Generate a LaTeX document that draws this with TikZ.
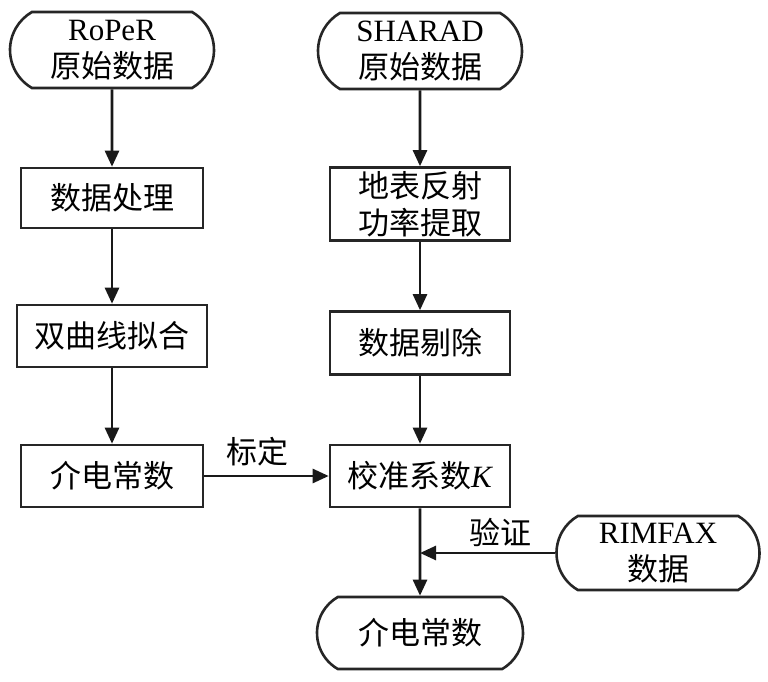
\documentclass[tikz,border=0pt]{standalone}
\usepackage{fontspec}
\setmainfont{Liberation Serif}
\newfontfamily\cjk{Noto Sans CJK SC}
\usetikzlibrary{shapes.misc,arrows.meta}
\begin{document}
\begin{tikzpicture}[x=1pt,y=-1pt,
  every node/.style={font=\fontsize{31}{37}\selectfont, align=center},
  term/.style={draw=black!85, line width=2.6pt, rounded rectangle, rounded rectangle arc length=120, minimum width=204pt, minimum height=76pt, inner sep=0pt},
  proc/.style={draw=black!85, line width=2.6pt, rectangle, minimum width=182pt, minimum height=60pt, inner sep=0pt},
  arr/.style={line width=2.6pt, draw=black!90, -{Triangle[width=14pt,length=16pt]}},
  lbl/.style={inner sep=0pt}]
\useasboundingbox (0,0) rectangle (768,682);
% left column
\node[term] (roper) at (112,50) {RoPeR\\{\cjk 原始数据}};
\node[proc] (dp) at (112,198) {\cjk 数据处理};
\node[proc, minimum width=190pt, minimum height=62pt] (fit) at (112,336) {\cjk 双曲线拟合};
\node[proc, minimum height=62pt] (dcl) at (112,476) {\cjk 介电常数};
% middle column
\node[term] (sharad) at (420,51) {SHARAD\\{\cjk 原始数据}};
\node[proc, minimum width=180pt, minimum height=73pt] (surf) at (420,204) {\cjk 地表反射\\\cjk 功率提取};
\node[proc, minimum width=180pt, minimum height=63pt] (rem) at (420,343) {\cjk 数据剔除};
\node[proc, minimum width=180pt, minimum height=62pt] (k) at (420,476) {{\cjk 校准系数}\textit{K}};
\node[term, minimum width=206pt, minimum height=72pt] (dcb) at (420,633) {\cjk 介电常数};
% right
\node[term, minimum width=203pt, minimum height=74pt] (rim) at (658,553) {RIMFAX\\{\cjk 数据}};
\coordinate (j) at (420,553);
% connectors
\draw[arr] (roper) -- (dp);
\draw[arr] (dp) -- (fit);
\draw[arr] (fit) -- (dcl);
\draw[arr] (sharad) -- (surf);
\draw[arr] (surf) -- (rem);
\draw[arr] (rem) -- (k);
\draw[arr] (dcl) -- (k);
\draw[arr] (k) -- (dcb);
\draw[arr] (rim) -- (j);
\node[lbl] (bd) at (257,452) {\cjk 标定};
\node[lbl] (yz) at (500,532) {\cjk 验证};
\end{tikzpicture}
\end{document}
